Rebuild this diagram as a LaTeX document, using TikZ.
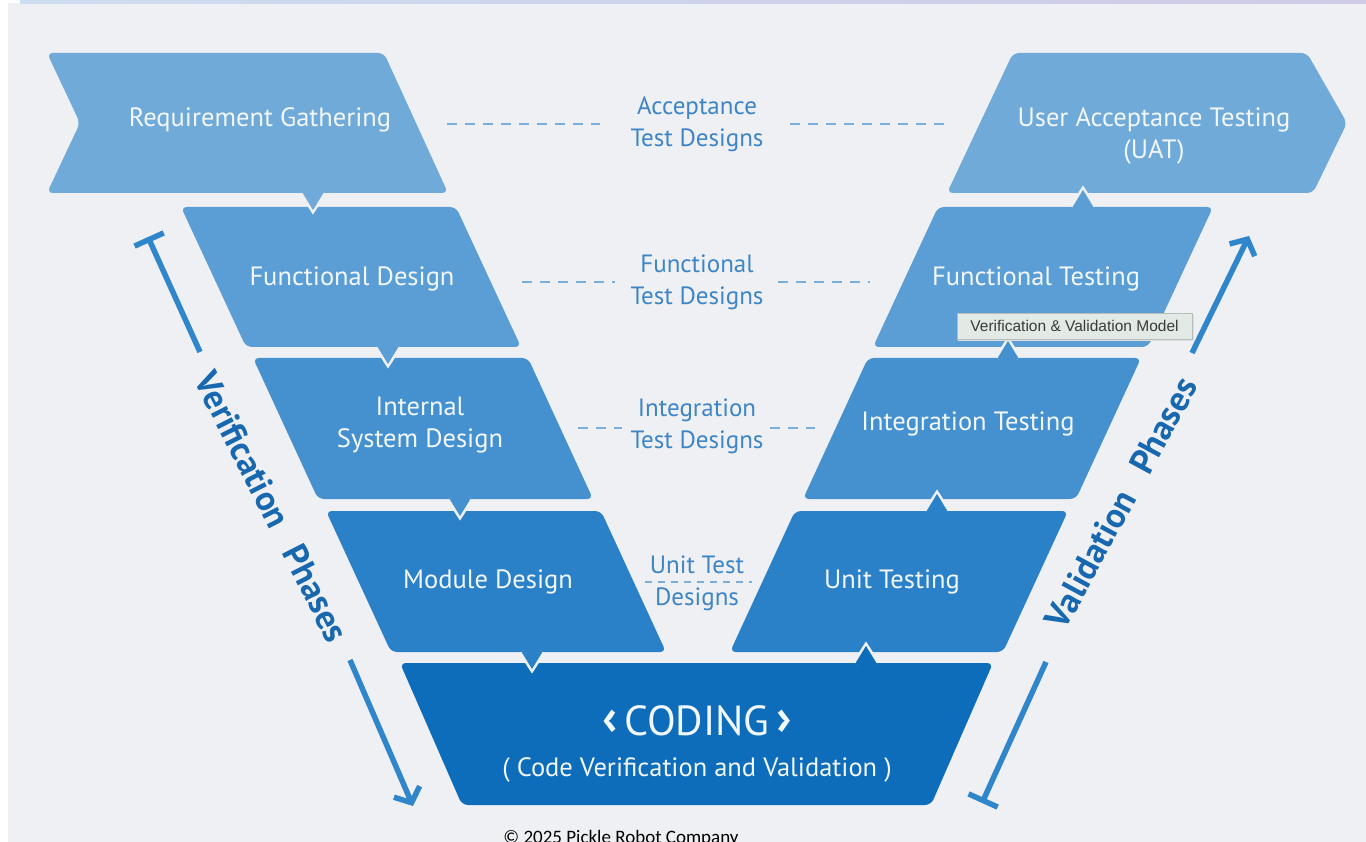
\documentclass[tikz,border=0pt]{standalone}
\usepackage{fontspec}
\setmainfont{PT Sans}
\newfontfamily\tipfont{Liberation Sans}
\newfontfamily\copyfont{Carlito}
\usetikzlibrary{arrows.meta}
\definecolor{bg}{HTML}{EFF0F4}
\definecolor{rowa}{HTML}{6FAAD9}
\definecolor{rowb}{HTML}{5A9ED5}
\definecolor{rowc}{HTML}{4591CF}
\definecolor{rowd}{HTML}{2A81C8}
\definecolor{rowe}{HTML}{0D6DBA}
\definecolor{boxfg}{HTML}{F2F7FC}
\definecolor{midfg}{HTML}{3E85C5}
\definecolor{dashc}{HTML}{7AAEDC}
\definecolor{arrc}{HTML}{2F86CA}
\definecolor{phasefg}{HTML}{1868B0}
\definecolor{tipbg}{HTML}{E1EAE5}
\definecolor{tipbd}{HTML}{B4BDB9}
\definecolor{tipfg}{HTML}{3A3A3A}
\newcommand\ptrdown[3]{%
  \draw[bg,line width=5pt,line join=miter] (#1-11,#2) -- (#1,#2+17) -- (#1+11,#2);
  \fill[#3] (#1-11,#2-1) -- (#1,#2+17) -- (#1+11,#2-1) -- cycle;}
\newcommand\ptrup[3]{%
  \draw[bg,line width=5pt,line join=miter] (#1-11,#2) -- (#1,#2-17) -- (#1+11,#2);
  \fill[#3] (#1-11,#2+1) -- (#1,#2-17) -- (#1+11,#2+1) -- cycle;}
\begin{document}
\begin{tikzpicture}[x=1pt,y=-1pt,
  vbox/.style={rounded corners=6pt},
  boxtxt/.style={text=boxfg, font=\fontsize{26.5}{32}\selectfont, align=center, inner sep=0pt},
  midtxt/.style={text=midfg, font=\fontsize{25}{32}\selectfont, align=center, inner sep=0pt},
  dashln/.style={draw=dashc, line width=1.6pt, dash pattern=on 10pt off 8pt},
  phaseln/.style={draw=arrc, line width=5.5pt},
  phasetxt/.style={text=phasefg, font=\bfseries\fontsize{35}{38}\selectfont, inner sep=0pt},
]
\useasboundingbox (0,0) rectangle (1366,842);
\fill[white] (0,0) rectangle (1366,842);
\fill[bg] (8,3) rectangle (1366,842);
\shade[left color={rgb,255:red,205;green,221;blue,240}, right color={rgb,255:red,206;green,202;blue,231}] (20,0) rectangle (1366,3.5);

% ---- boxes: left column
\fill[rowa,vbox] (47,53) -- (384,53) -- (448,193) -- (47,193) -- (80,123) -- cycle;
\fill[rowb,vbox] (181,207) -- (456,207) -- (521,347) -- (246,347) -- cycle;
\fill[rowc,vbox] (253,358) -- (528,358) -- (593,499) -- (318,499) -- cycle;
\fill[rowd,vbox] (326,511) -- (601,511) -- (666,652) -- (391,652) -- cycle;
% ---- boxes: right column
\fill[rowa,vbox] (1013,53) -- (1307,53) -- (1347,123) -- (1313,193) -- (947,193) -- cycle;
\fill[rowb,vbox] (938,207) -- (1213,207) -- (1148,347) -- (873,347) -- cycle;
\fill[rowc,vbox] (868,358) -- (1141,358) -- (1076,499) -- (803,499) -- cycle;
\fill[rowd,vbox] (795,511) -- (1068,511) -- (1003,652) -- (730,652) -- cycle;
% ---- coding
\fill[rowe,vbox] (400,663) -- (993,663) -- (931,805) -- (462,805) -- cycle;

% ---- pointers
\ptrdown{313}{193}{rowa}
\ptrdown{388}{347}{rowb}
\ptrdown{460}{499}{rowc}
\ptrdown{532}{652}{rowd}
\ptrup{1083}{207}{rowb}
\ptrup{1008}{358}{rowc}
\ptrup{937}{511}{rowd}
\ptrup{866}{663}{rowe}

% ---- box texts
\node[boxtxt] (req) at (260,120) {Requirement Gathering};
\node[boxtxt] (fd) at (352,279) {Functional Design};
\node[boxtxt] (isd) at (420,425) {Internal\\System Design};
\node[boxtxt] (md) at (488,582) {Module Design};
\node[boxtxt] (uat) at (1154,136) {User Acceptance Testing\\(UAT)};
\node[boxtxt] (ft) at (1036,279) {Functional Testing};
\node[boxtxt] (it) at (968,424) {Integration Testing};
\node[boxtxt] (ut) at (892,582) {Unit Testing};
\node[text=boxfg, font=\fontsize{42}{48}\selectfont, inner sep=0pt] (cod) at (697,721) {\raisebox{1pt}{\fontsize{50}{50}\selectfont\bfseries ‹}\,CODING\,\raisebox{1pt}{\fontsize{50}{50}\selectfont\bfseries ›}};
\node[text=boxfg, font=\fontsize{26.5}{32}\selectfont, inner sep=0pt] (cvv) at (697,770) {( Code Verification and Validation )};

% ---- middle labels
\node[midtxt] (atd) at (697,124) {Acceptance\\Test Designs};
\node[midtxt] (ftd) at (697,282) {Functional\\Test Designs};
\node[midtxt] (itd) at (697,426) {Integration\\Test Designs};
\node[midtxt] (utd) at (697,583) {Unit Test\\Designs};

% ---- dashed links
\coordinate (a1) at (447,124); \coordinate (a2) at (600,124);
\coordinate (a3) at (790,124); \coordinate (a4) at (945,124);
\draw[dashln] (a1) -- (a2); \draw[dashln] (a3) -- (a4);
\coordinate (f1) at (522,282); \coordinate (f2) at (615,282);
\coordinate (f3) at (778,282); \coordinate (f4) at (870,282);
\draw[dashln] (f1) -- (f2); \draw[dashln] (f3) -- (f4);
\coordinate (i1) at (578,428); \coordinate (i2) at (622,428);
\coordinate (i3) at (770,428); \coordinate (i4) at (815,428);
\draw[dashln] (i1) -- (i2); \draw[dashln] (i3) -- (i4);
\coordinate (u1) at (645,582); \coordinate (u2) at (752,582);
\draw[dashln, line width=1.2pt, dash pattern=on 7pt off 6pt] (u1) -- (u2);

% ---- phase arrows
\coordinate (v1) at (148,237); \coordinate (v2) at (200,352);
\coordinate (v3) at (350,660); \coordinate (v4) at (413,806);
\draw[phaseln, {Bar[width=32pt]}-] (v1) -- (v2);
\draw[phaseln, -{Straight Barb[length=12pt,width=28pt]}] (v3) -- (v4);
\node[phasetxt, rotate=-63] (vph) at (272,507) {Verification\hspace{0.7em}Phases};

\coordinate (w1) at (982,803); \coordinate (w2) at (1046,662);
\coordinate (w3) at (1192,353); \coordinate (w4) at (1249,236);
\draw[phaseln, {Bar[width=32pt]}-] (w1) -- (w2);
\draw[phaseln, -{Straight Barb[length=12pt,width=28pt]}] (w3) -- (w4);
\node[phasetxt, rotate=61.5] (vah) at (1121,503) {Validation\hspace{0.7em}Phases};

% ---- tooltip
\fill[black!12] (958,315) rectangle (1194,341);
\node[draw=tipbd, fill=tipbg, line width=0.8pt, text=tipfg, font=\tipfont\fontsize{15.5}{17}\selectfont, minimum width=235pt, minimum height=26pt, inner sep=0pt] (tip) at (1074.5,326) {Verification \& Validation Model};

% ---- copyright
\node[anchor=base, text=black, font=\copyfont\fontsize{19}{21}\selectfont, inner sep=0pt] (copy) at (621,843) {© 2025 Pickle Robot Company};
\end{tikzpicture}
\end{document}
